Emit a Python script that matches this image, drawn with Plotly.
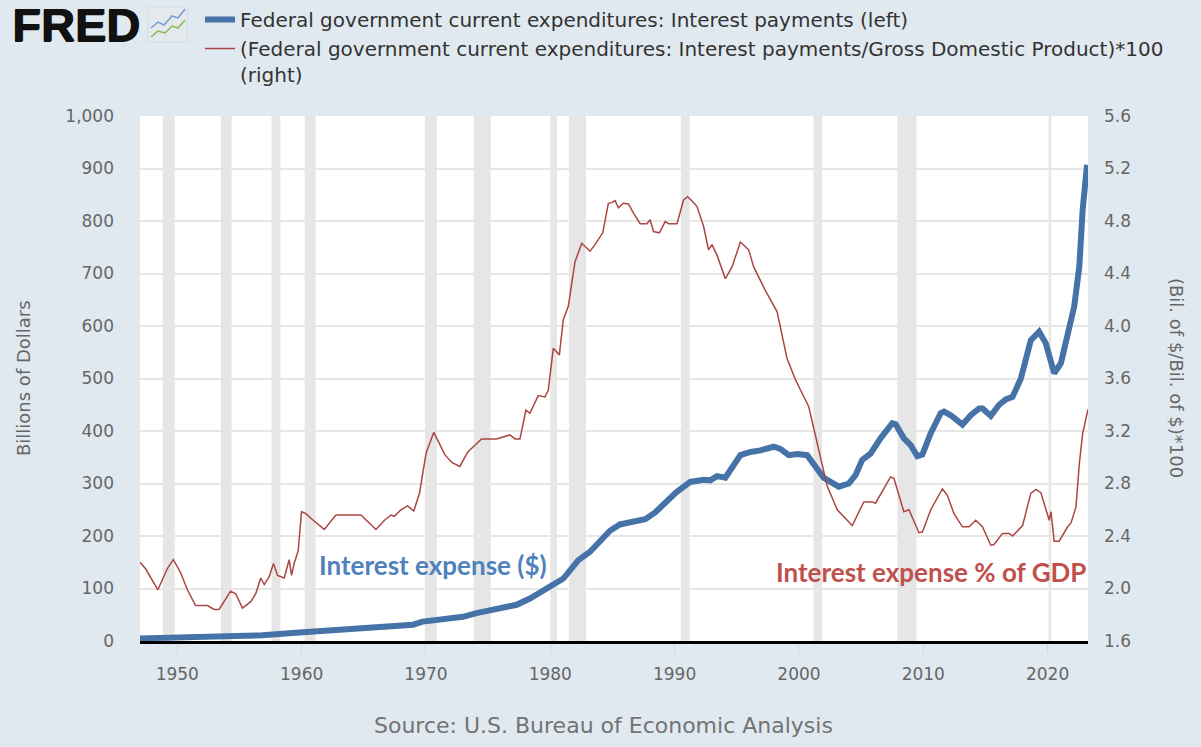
import plotly.graph_objects as go

# Federal interest payments, billions of dollars (left axis)
blue_years = [1947.0, 1950.0, 1953.0, 1956.85, 1959.83, 1962.0, 1964.91, 1968.94, 1969.74,
              1971.92, 1972.97, 1974.07, 1975.68, 1977.29, 1978.36, 1979.71, 1981.05, 1982.26,
              1983.20, 1984.0, 1984.8, 1985.6, 1986.58, 1987.63, 1988.44, 1989.24, 1990.13,
              1991.26, 1992.33, 1992.87, 1993.41, 1994.08, 1995.29, 1996.10, 1996.90, 1997.97,
              1998.51, 1999.18, 1999.86, 2000.66, 2001.19, 2001.99, 2002.54, 2003.21, 2004.01,
              2004.55, 2005.09, 2005.76, 2006.56, 2007.51, 2007.78, 2008.44, 2008.99, 2009.52,
              2009.93, 2010.60, 2011.40, 2011.67, 2012.21, 2013.15, 2013.82, 2014.49, 2014.76,
              2015.43, 2016.10, 2016.64, 2017.18, 2017.85, 2018.65, 2019.32, 2019.86, 2020.53,
              2021.07, 2021.88, 2022.14, 2022.55, 2022.82, 2023.17]
blue_vals = [5, 6, 7.5, 11, 16, 19, 23, 31, 37,
             42, 46, 53, 60, 69, 81, 100, 119, 154,
             170, 190, 210, 222, 228, 232, 245, 262, 283,
             303, 307, 306, 314, 311, 354, 360, 363, 370,
             366, 354, 356, 354, 338, 311, 303, 294, 300,
             316, 345, 357, 386, 415, 413, 386, 373, 352,
             355, 396, 434, 437, 430, 412, 430, 443, 443,
             429, 450, 460, 465, 500, 573, 589, 567, 510,
             529, 611, 637, 713, 821, 907]

# Interest payments / GDP * 100 (right axis)
red_years = [1947.00, 1947.45, 1948.44, 1949.19, 1949.68, 1950.27, 1950.81, 1951.47, 1952.42,
             1952.96, 1953.36, 1954.29, 1954.70, 1955.24, 1955.91, 1956.31, 1956.71, 1956.99,
             1957.39, 1957.74, 1958.06, 1958.60, 1959.00, 1959.19, 1959.40, 1959.73, 1959.99,
             1960.34, 1960.74, 1961.82, 1962.76, 1963.43, 1964.77, 1965.31, 1965.98, 1966.66,
             1967.19, 1967.46, 1967.99, 1968.53, 1969.02, 1969.48, 1970.01, 1970.63, 1971.52,
             1972.08, 1972.72, 1973.37, 1974.47, 1975.68, 1976.75, 1977.16, 1977.56, 1978.04,
             1978.36, 1979.03, 1979.57, 1979.84, 1980.24, 1980.73, 1981.05, 1981.45, 1981.99,
             1982.53, 1983.20, 1983.60, 1984.22, 1984.67, 1984.95, 1985.21, 1985.48, 1985.88,
             1986.29, 1986.69, 1987.23, 1987.77, 1988.03, 1988.30, 1988.78, 1989.24, 1989.51,
             1990.19, 1990.72, 1991.04, 1991.39, 1991.80, 1992.33, 1992.73, 1993.01, 1993.41,
             1994.08, 1994.62, 1995.29, 1995.96, 1996.36, 1997.30, 1998.24, 1999.05, 1999.72,
             2000.79, 2001.47, 2002.27, 2003.08, 2004.29, 2005.22, 2005.90, 2006.16, 2007.37,
             2007.64, 2008.44, 2008.85, 2009.65, 2009.93, 2010.60, 2011.54, 2011.94, 2012.47,
             2013.15, 2013.68, 2014.22, 2014.76, 2015.43, 2015.70, 2016.37, 2016.91, 2017.18,
             2017.99, 2018.65, 2019.06, 2019.46, 2020.13, 2020.27, 2020.53, 2020.93, 2021.61,
             2021.88, 2022.28, 2022.55, 2022.82, 2023.25]
red_vals = [2.20, 2.15, 1.99, 2.15, 2.22, 2.12, 1.99, 1.87, 1.87,
            1.84, 1.84, 1.98, 1.96, 1.85, 1.90, 1.96, 2.08, 2.03,
            2.09, 2.19, 2.10, 2.08, 2.22, 2.10, 2.19, 2.29, 2.585,
            2.57, 2.535, 2.45, 2.56, 2.56, 2.56, 2.51, 2.45, 2.52,
            2.56, 2.55, 2.60, 2.63, 2.59, 2.725, 3.03, 3.19, 3.02,
            2.96, 2.93, 3.04, 3.14, 3.14, 3.17, 3.14, 3.14, 3.36,
            3.335, 3.47, 3.46, 3.51, 3.83, 3.78, 4.05, 4.15, 4.49,
            4.63, 4.57, 4.62, 4.71, 4.935, 4.94, 4.955, 4.90, 4.935,
            4.93, 4.86, 4.78, 4.78, 4.81, 4.72, 4.71, 4.795, 4.78,
            4.78, 4.96, 4.985, 4.955, 4.91, 4.76, 4.58, 4.62, 4.54,
            4.36, 4.45, 4.64, 4.58, 4.45, 4.27, 4.11, 3.75, 3.59,
            3.385, 3.11, 2.78, 2.60, 2.48, 2.66, 2.66, 2.65, 2.85,
            2.84, 2.585, 2.60, 2.425, 2.43, 2.60, 2.76, 2.71, 2.57,
            2.47, 2.47, 2.52, 2.47, 2.33, 2.335, 2.42, 2.42, 2.40,
            2.48, 2.725, 2.755, 2.73, 2.52, 2.585, 2.36, 2.36, 2.47,
            2.50, 2.62, 2.95, 3.18, 3.365]

# NBER recessions (start, end) in fractional years
rec_start = [1948.83, 1953.50, 1957.58, 1960.25, 1969.92, 1973.83, 1980.00, 1981.50,
             1990.50, 2001.17, 2007.92, 2020.08]
rec_end = [1949.79, 1954.37, 1958.29, 1961.12, 1970.87, 1975.21, 1980.54, 1982.87,
           1991.21, 2001.87, 2009.46, 2020.29]

year_ticks = [1950, 1960, 1970, 1980, 1990, 2000, 2010, 2020]

BG = "#e1e9f0"
FONT = "DejaVu Sans"

W, H = 1201, 747
L, R, T, B = 140, 113, 116, 106


def px(xp, yp):
    # pixel position -> paper coordinates
    return (xp - L) / (W - L - R), (H - B - yp) / (H - T - B)


fig = go.Figure()

fig.add_trace(go.Scatter(
    x=blue_years, y=blue_vals, mode="lines",
    name="Federal government current expenditures: Interest payments (left)",
    line=dict(color="#4572a7", width=6), legendgroup="a",
))
fig.add_trace(go.Scatter(
    x=red_years, y=red_vals, mode="lines", yaxis="y2",
    name="(Federal government current expenditures: Interest payments/Gross Domestic Product)*100<br>(right)",
    line=dict(color="#aa4643", width=1.5), legendgroup="b",
))

shapes = []
for s, e in zip(rec_start, rec_end):
    shapes.append(dict(type="rect", xref="x", yref="paper", x0=s, x1=e, y0=0, y1=1,
                       fillcolor="#e6e6e6", line=dict(width=0), layer="between"))

# little FRED chart icon
x0, y0 = px(148, 42)
x1, y1 = px(187, 7)
shapes.append(dict(type="rect", xref="paper", yref="paper", x0=x0, y0=y0, x1=x1, y1=y1,
                   fillcolor="#e4e9ed", line=dict(color="#d5dce2", width=1)))


def poly(points, color):
    p = [px(a, b) for a, b in points]
    path = "M " + " L ".join(f"{a:.4f},{b:.4f}" for a, b in p)
    return dict(type="path", xref="paper", yref="paper", path=path,
                line=dict(color=color, width=1.5))


shapes.append(poly([(151, 28), (158, 22), (164, 25), (172, 16), (178, 18), (185, 9)], "#6f9fd3"))
shapes.append(poly([(151, 37), (158, 31), (165, 33), (172, 26), (178, 28), (185, 20)], "#86bd4a"))

ann = []


def note(text, xp, yp, size, color, family=FONT, angle=0, shadow=None):
    x, y = px(xp, yp)
    font = dict(family=family, size=size, color=color)
    if shadow:
        font["shadow"] = shadow
    ann.append(dict(text=text, xref="paper", yref="paper", x=x, y=y, xanchor="center",
                    yanchor="middle", textangle=angle, showarrow=False, font=font))


note("<b>FRED</b>", 76, 24, 47, "#111111", family="Liberation Sans",
     shadow="1px 0px 0px #111111, 0px 1px 0px #111111")
note("Billions of Dollars", 23, 378, 18, "#666666", angle=-90)
note("(Bil. of $/Bil. of $)*100", 1177, 378, 18, "#666666", angle=90)
note("Source: U.S. Bureau of Economic Analysis", 603, 725, 22, "#737373")
note("<b>Interest expense ($)</b>", 433, 565, 26, "#4f81bd", family="Lato")
note("<b>Interest expense % of GDP</b>", 931, 572, 26, "#c0504d", family="Lato")

legx, legy = px(200, 0)

fig.update_layout(
    width=W, height=H,
    margin=dict(l=L, r=R, t=T, b=B, autoexpand=False),
    paper_bgcolor=BG, plot_bgcolor="white",
    font=dict(family=FONT, size=17, color="#666666"),
    showlegend=True,
    legend=dict(x=legx, y=legy, xanchor="left", yanchor="top", bgcolor="rgba(0,0,0,0)",
                font=dict(family=FONT, size=20, color="#333333"), valign="top",
                traceorder="grouped", tracegroupgap=0),
    xaxis=dict(range=[1947.0, 2023.25], tickvals=year_ticks, ticktext=[str(v) for v in year_ticks],
               showgrid=False, zeroline=False, ticks="outside", ticklen=10, tickcolor="#ccd6eb",
               showline=True, linecolor="black", linewidth=3, ticklabelstandoff=6,
               tickfont=dict(family=FONT, size=17, color="#666666")),
    yaxis=dict(range=[0, 1000], dtick=100, tickformat=",d", showgrid=True, gridcolor="#e6e6e6",
               gridwidth=1.5, zeroline=False, ticks="", ticklabelstandoff=25,
               tickfont=dict(family=FONT, size=17, color="#666666")),
    yaxis2=dict(range=[1.6, 5.6], dtick=0.4, tickformat=".1f", overlaying="y", side="right",
                showgrid=False, zeroline=False, ticks="", ticklabelstandoff=15,
                tickfont=dict(family=FONT, size=17, color="#666666")),
    shapes=shapes,
    annotations=ann,
)

fig.write_html("out.html", config={"displayModeBar": False},
               post_script="document.body.style.margin='0px';")
